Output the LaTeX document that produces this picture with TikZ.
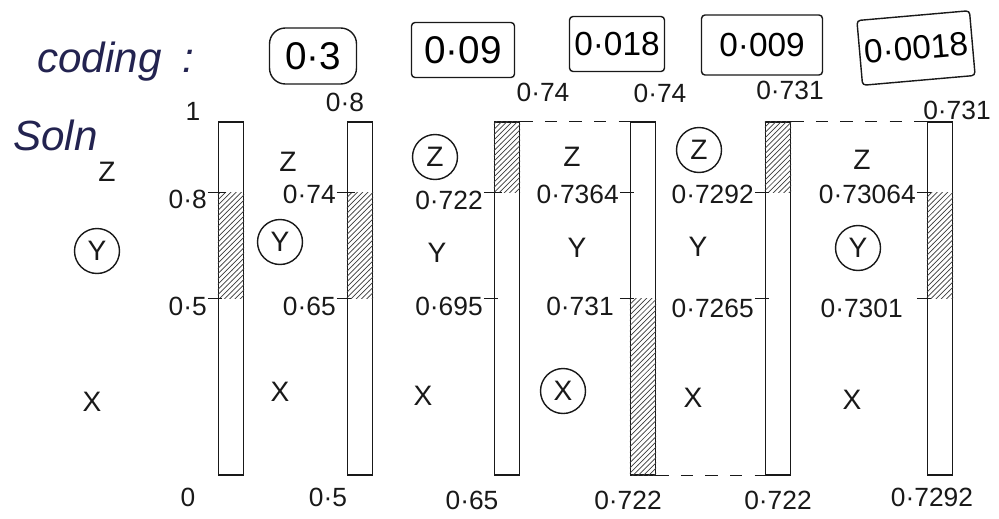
\documentclass[tikz,border=0pt]{standalone}
\usepackage{fontspec}
\setmainfont{Liberation Sans}
\usepackage{tikz}
\usetikzlibrary{patterns, calc}
\definecolor{inkBlack}{RGB}{25, 25, 25}
\definecolor{inkBlue}{RGB}{35, 35, 80}

\begin{document}
\begin{tikzpicture}[
  x=0.02cm, y=-0.02cm,
  bar/.style={
    rectangle, draw=inkBlack, thick,
    minimum width=0.5cm, minimum height=7.06cm, inner sep=0pt
  },
  hatch/.style={pattern=north east lines, pattern color=inkBlack!85},
  sym/.style={font=\fontsize{16}{16}\selectfont, text=inkBlack, inner sep=1pt},
  circ/.style={sym, circle, draw=inkBlack, thick, minimum size=0.9cm},
  val/.style={font=\fontsize{15}{15}\selectfont, text=inkBlack, inner sep=1pt},
  probbox/.style={
    rectangle, rounded corners=2pt, draw=inkBlack, thick,
    font=\fontsize{19}{19}\selectfont, inner sep=2pt
  },
  hand/.style={font=\itshape\fontsize{24}{24}\selectfont, text=inkBlue, inner sep=0pt},
  tickmark/.style={draw=inkBlack, thick},
  link/.style={draw=inkBlack, thick, dash pattern=on 7pt off 7pt}
]

\useasboundingbox[fill=white] (0,0) rectangle (999,518);

% heading
\node[hand, anchor=west] (coding) at (37,62) {coding\enspace:};
\node[hand, anchor=west] (soln) at (13,135) {Soln};

% probabilities of each step
\node[probbox, rounded corners=9pt, minimum width=1.74cm, minimum height=1.12cm,
  font=\fontsize{22}{22}\selectfont] (p1) at (313,56) {0·3};
\node[probbox, minimum width=2.06cm, minimum height=1.1cm,
  font=\fontsize{22}{22}\selectfont] (p2) at (463,50) {0·09};
\node[probbox, minimum width=1.9cm, minimum height=1.1cm] (p3) at (617,44) {0·018};
\node[probbox, minimum width=2.42cm, minimum height=1.2cm] (p4) at (762,45) {0·009};
\node[probbox, minimum width=2.26cm, minimum height=1.3cm, rotate=5] (p5) at (916,48) {0·0018};

% intervals
\node[bar] (b1) at (231,298.5) {};
\node[bar] (b2) at (360,298.5) {};
\node[bar] (b3) at (507,298.5) {};
\node[bar] (b4) at (643,298.5) {};
\node[bar] (b5) at (778,298.5) {};
\node[bar] (b6) at (940,298.5) {};

\coordinate (b1hi) at ($(b1.south west)!.8!(b1.north west)$);
\coordinate (b1lo) at ($(b1.south west)!.5!(b1.north west)$);
\coordinate (b2hi) at ($(b2.south west)!.8!(b2.north west)$);
\coordinate (b2lo) at ($(b2.south west)!.5!(b2.north west)$);
\coordinate (b3hi) at ($(b3.south west)!.8!(b3.north west)$);
\coordinate (b3lo) at ($(b3.south west)!.5!(b3.north west)$);
\coordinate (b4hi) at ($(b4.south west)!.8!(b4.north west)$);
\coordinate (b4lo) at ($(b4.south west)!.5!(b4.north west)$);
\coordinate (b5hi) at ($(b5.south west)!.8!(b5.north west)$);
\coordinate (b5lo) at ($(b5.south west)!.5!(b5.north west)$);
\coordinate (b6hi) at ($(b6.south west)!.8!(b6.north west)$);
\coordinate (b6lo) at ($(b6.south west)!.5!(b6.north west)$);

% chosen sub-interval
\path[hatch] (b1lo) rectangle (b1hi -| b1.east);
\path[hatch] (b2lo) rectangle (b2hi -| b2.east);
\path[hatch] (b3hi) rectangle (b3.north east);
\path[hatch] (b4.south west) rectangle (b4lo -| b4.east);
\path[hatch] (b5hi) rectangle (b5.north east);
\path[hatch] (b6lo) rectangle (b6hi -| b6.east);

% ticks
\draw[tickmark] (b1hi) ++(-10,0) -- ++(18,0);
\draw[tickmark] (b1lo) ++(-10,0) -- ++(14,0);
\draw[tickmark] (b2hi) ++(-10,0) -- ++(18,0);
\draw[tickmark] (b2lo) ++(-10,0) -- ++(14,0);
\draw[tickmark] (b3hi) ++(-10,0) -- ++(18,0);
\draw[tickmark] (b3lo) ++(-10,0) -- ++(14,0);
\draw[tickmark] (b4hi) ++(-10,0) -- ++(14,0);
\draw[tickmark] (b4lo) ++(-10,0) -- ++(14,0);
\draw[tickmark] (b5hi) ++(-10,0) -- ++(14,0);
\draw[tickmark] (b5lo) ++(-10,0) -- ++(14,0);
\draw[tickmark] (b6hi) ++(-10,0) -- ++(14,0);
\draw[tickmark] (b6lo) ++(-10,0) -- ++(14,0);

\node[val, anchor=east] (v1hi) at ($(b1hi)+(-9,7)$) {0·8};
\node[val, anchor=east] (v1lo) at ($(b1lo)+(-9,8)$) {0·5};
\node[val, anchor=east] (v2hi) at ($(b2hi)+(-9,2)$) {0·74};
\node[val, anchor=east] (v2lo) at ($(b2lo)+(-9,8)$) {0·65};
\node[val, anchor=east] (v3hi) at ($(b3hi)+(-9,8)$) {0·722};
\node[val, anchor=east] (v3lo) at ($(b3lo)+(-9,8)$) {0·695};
\node[val, anchor=east] (v4hi) at ($(b4hi)+(-9,2)$) {0·7364};
\node[val, anchor=east] (v4lo) at ($(b4lo)+(-14,8)$) {0·731};
\node[val, anchor=east] (v5hi) at ($(b5hi)+(-9,2)$) {0·7292};
\node[val, anchor=east] (v5lo) at ($(b5lo)+(-9,10)$) {0·7265};
\node[val, anchor=east] (v6hi) at ($(b6hi)+(-9,2)$) {0·73064};
\node[val, anchor=east] (v6lo) at ($(b6lo)+(-22,10)$) {0·7301};

% interval ends
\node[val] (top1) at (193,111) {1};
\node[val] (top2) at (345,102) {0·8};
\node[val] (top3) at (543,92) {0·74};
\node[val] (top4) at (660,93) {0·74};
\node[val] (top5) at (790,90) {0·731};
\node[val] (top6) at (957,110) {0·731};

\node[val] (bot1) at (188,497) {0};
\node[val] (bot2) at (328,497) {0·5};
\node[val] (bot3) at (472,500) {0·65};
\node[val] (bot4) at (628,500) {0·722};
\node[val] (bot5) at (778,500) {0·722};
\node[val] (bot6) at (932,497) {0·7292};

% symbols
\node[sym] (z1) at (107,172) {Z};
\node[circ] (y1) at (97,251) {Y};
\node[sym] (x1) at (92,402) {X};

\node[sym] (z2) at (288,162) {Z};
\node[circ] (y2) at (280,242) {Y};
\node[sym] (x2) at (280,392) {X};

\node[circ] (z3) at (435,157) {Z};
\node[sym] (y3) at (437,253) {Y};
\node[sym] (x3) at (423,396) {X};

\node[sym] (z4) at (572,157) {Z};
\node[sym] (y4) at (577,248) {Y};
\node[circ] (x4) at (563,391) {X};

\node[circ] (z5) at (699,150) {Z};
\node[sym] (y5) at (698,247) {Y};
\node[sym] (x5) at (693,398) {X};

\node[sym] (z6) at (862,160) {Z};
\node[circ] (y6) at (858,248) {Y};
\node[sym] (x6) at (852,400) {X};

% carried over ends
\draw[link] (b3.north east) -- (b4.north west);
\draw[link] (b4.south east) -- (b5.south west);
\draw[link] (b5.north east) -- (b6.north west);

\end{tikzpicture}
\end{document}
